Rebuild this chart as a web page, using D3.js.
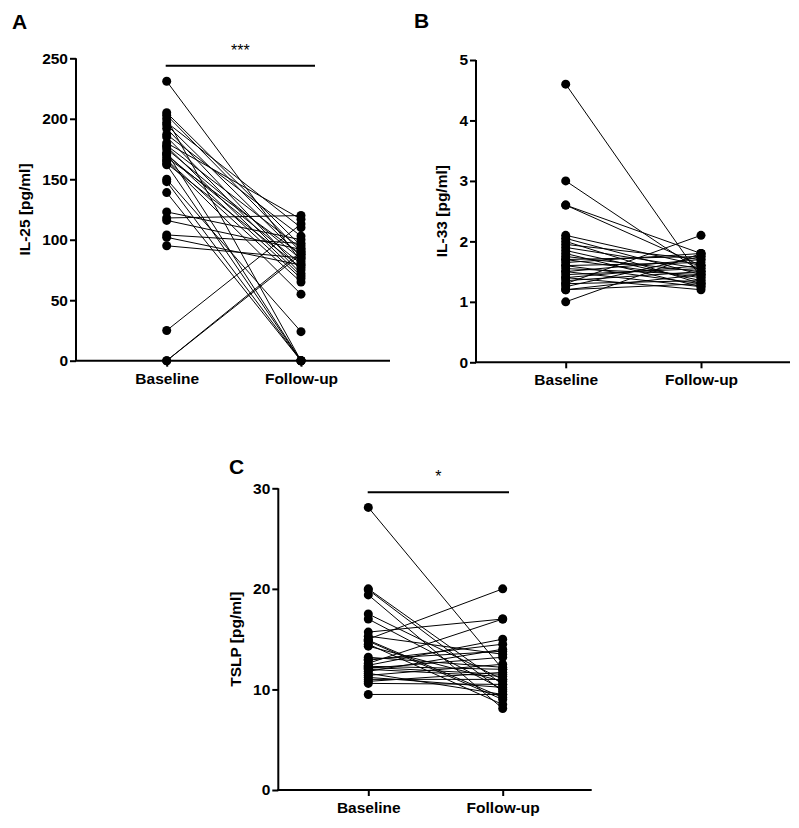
<!DOCTYPE html>
<html><head><meta charset="utf-8">
<script src="https://cdn.jsdelivr.net/npm/d3@7"></script>
<style>body{margin:0;background:#fff}svg{display:block}</style>
</head><body>
<svg id="c" width="799" height="828"></svg>
<script>
const categories = ["Baseline", "Follow-up"];

const il25Baseline = [231,205,203,200,197,195,192,187,185,180,178,177,175,172,171,170,168,166,165,163,162,150,148,139,123,118,116,104,102,95,25,0,0];
const il25Follow   = [82,95,90,0,110,86,75,103,72,117,93,70,84,0,68,80,88,65,55,77,0,24,0,0,100,120,92,97,79,85,113,88,90];
const il25Ticks = [0,50,100,150,200,250];

const il33Baseline = [4.6,3.0,2.6,2.6,2.1,2.05,2.0,1.95,1.9,1.85,1.8,1.75,1.7,1.7,1.65,1.6,1.6,1.55,1.5,1.5,1.45,1.4,1.4,1.35,1.3,1.3,1.25,1.2,1.2,1.0];
const il33Follow   = [1.4,1.5,1.8,1.6,1.6,1.45,1.3,1.7,1.55,1.35,1.25,1.5,1.75,1.4,1.8,1.3,1.65,1.45,1.7,1.25,1.55,1.6,1.2,1.5,2.1,1.35,1.75,1.45,1.3,1.8];
const il33Ticks = [0,1,2,3,4,5];

const tslpBaseline = [28.1,20.0,19.9,19.4,17.5,17.0,15.7,15.3,15.0,14.9,14.8,14.5,14.3,13.2,13.0,12.9,12.6,12.4,12.3,12.2,12.1,12.0,11.8,11.6,11.4,11.2,11.0,10.8,10.6,9.5];
const tslpFollow   = [12.0,10.5,9.8,8.1,11.0,10.0,17.0,13.5,20.0,9.2,9.0,8.5,10.8,12.2,13.8,14.5,17.0,15.0,12.0,11.5,13.2,11.3,14.0,9.5,12.5,10.2,11.0,11.7,10.5,9.5];
const tslpTicks = [0,10,20,30];

const panels = [
  {label:"A", title:"IL-25 [pg/ml]", base:il25Baseline, fol:il25Follow, ticks:il25Ticks, max:250,
   ax:76, y0:360.7, y1:58.3, xEnd:390, c0:166.7, c1:301, lx:12, ly:29, tx:24, sig:"***", sigX:[165.7,315], sigY:65.7},
  {label:"B", title:"IL-33 [pg/ml]", base:il33Baseline, fol:il33Follow, ticks:il33Ticks, max:5,
   ax:476, y0:362.3, y1:60, xEnd:790, c0:565.7, c1:701, lx:414, ly:28, tx:441, sig:null},
  {label:"C", title:"TSLP [pg/ml]", base:tslpBaseline, fol:tslpFollow, ticks:tslpTicks, max:30,
   ax:278.3, y0:790, y1:488.3, xEnd:591.7, c0:368.3, c1:502.7, lx:229, ly:474, tx:235, sig:"*", sigX:[367.7,509], sigY:492.3}
];

const svg = d3.select("#c");
const FONT = "Liberation Sans, Arial, Helvetica, sans-serif";
const FS = 15.5;

panels.forEach(p => {
  const g = svg.append("g");
  const y = d3.scaleLinear().domain([0,p.max]).range([p.y0,p.y1]);
  const x = d3.scalePoint().domain(categories).range([p.c0,p.c1]);

  g.append("text").attr("x",p.lx).attr("y",p.ly).text(p.label)
    .attr("font-family",FONT).attr("font-weight","bold").attr("font-size",21);

  const ya = g.append("g").attr("transform",`translate(${p.ax},0)`)
    .call(d3.axisLeft(y).tickValues(p.ticks).tickSize(6).tickPadding(2).tickFormat(d3.format("d")));
  ya.select(".domain").attr("stroke","#000").attr("stroke-width",2).attr("d",`M0,${p.y0}V${p.y1}`);
  ya.selectAll(".tick line").attr("stroke","#000").attr("stroke-width",2);
  ya.selectAll(".tick text").attr("font-family",FONT).attr("font-weight","bold").attr("font-size",FS).attr("fill","#000");

  const xa = g.append("g").attr("transform",`translate(0,${p.y0})`)
    .call(d3.axisBottom(x).tickSize(6).tickPadding(6));
  xa.select(".domain").attr("stroke","#000").attr("stroke-width",2).attr("d",`M${p.ax-1},0H${p.xEnd}`);
  xa.selectAll(".tick line").attr("stroke","#000").attr("stroke-width",2);
  xa.selectAll(".tick text").attr("font-family",FONT).attr("font-weight","bold").attr("font-size",FS).attr("fill","#000");

  g.append("text").attr("transform",`translate(${p.tx},${(p.y0+p.y1)/2}) rotate(-90)`)
    .attr("text-anchor","middle").attr("dominant-baseline","central")
    .attr("font-family",FONT).attr("font-weight","bold").attr("font-size",FS).text(p.title);

  const pairs = p.base.map((b,i)=>({b, f:p.fol[i]}));
  g.append("g").selectAll("line").data(pairs).join("line")
    .attr("x1",x(categories[0])).attr("x2",x(categories[1]))
    .attr("y1",d=>y(d.b)).attr("y2",d=>y(d.f))
    .attr("stroke","#000").attr("stroke-width",1);
  g.append("g").selectAll("circle").data(p.base).join("circle")
    .attr("cx",x(categories[0])).attr("cy",d=>y(d)).attr("r",4.5).attr("fill","#000");
  g.append("g").selectAll("circle").data(p.fol).join("circle")
    .attr("cx",x(categories[1])).attr("cy",d=>y(d)).attr("r",4.5).attr("fill","#000");

  if (p.sig) {
    g.append("line").attr("x1",p.sigX[0]).attr("x2",p.sigX[1]).attr("y1",p.sigY).attr("y2",p.sigY)
      .attr("stroke","#000").attr("stroke-width",2);
    g.append("text").attr("x",(p.sigX[0]+p.sigX[1])/2).attr("y",p.sigY-10)
      .attr("text-anchor","middle").attr("font-family",FONT).attr("font-size",16).text(p.sig);
  }
});
</script>
</body></html>
